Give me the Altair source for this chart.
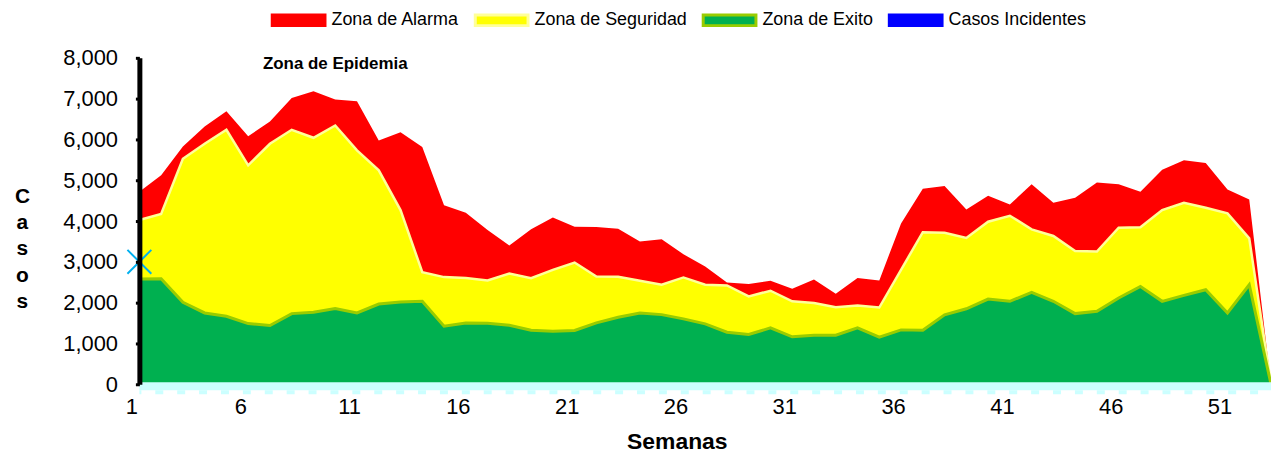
import altair as alt
import pandas as pd

weeks = list(range(1, 54))

alarma = [4715, 5122, 5829, 6317, 6691, 6081, 6439, 7017, 7179, 6976, 6935, 5976, 6179, 5813, 4390, 4203, 3780, 3398,
          3797, 4089, 3862, 3854, 3813, 3496, 3553, 3187, 2886, 2496, 2455, 2537, 2341, 2569, 2220, 2602, 2545,
          3943, 4790, 4858, 4285, 4618, 4407, 4902, 4447, 4569, 4943, 4902, 4715, 5260, 5488, 5423, 4772, 4529,
          0]
seguridad = [4024, 4171, 5528, 5894, 6236, 5366, 5894, 6236, 6041, 6341, 5732, 5244, 4268, 2748, 2626, 2602, 2545, 2712,
             2602, 2805, 2984, 2642, 2634, 2537, 2439, 2618, 2439, 2423, 2154, 2293, 2033, 1992, 1890, 1930, 1880,
             2805, 3728, 3715, 3585, 3984, 4130, 3797, 3634, 3268, 3252, 3837, 3846, 4268, 4447, 4325, 4187, 3577,
             0]
exito = [2577, 2585, 2008, 1748, 1667, 1488, 1439, 1732, 1764, 1854, 1748, 1967, 2016, 2033, 1423, 1504, 1496, 1445,
         1325, 1301, 1317, 1504, 1642, 1748, 1707, 1602, 1480, 1276, 1220, 1382, 1163, 1203, 1203, 1382, 1154,
         1333, 1325, 1700, 1850, 2089, 2033, 2252, 2033, 1732, 1789, 2114, 2398, 2033, 2179, 2317, 1748, 2439,
         0]
casos_semana = [1]
casos_valor = [3000]

zones = ["Zona de Alarma", "Zona de Seguridad", "Zona de Exito", "Casos Incidentes"]
fill_colors = ["#FF0000", "#FFFF00", "#00B050", "#0000FF"]
stroke_colors = ["#FF0000", "#FFFF99", "#99CC00", "#0000FF"]
x_ticks = [1, 6, 11, 16, 21, 26, 31, 36, 41, 46, 51]
y_ticks = [0, 1000, 2000, 3000, 4000, 5000, 6000, 7000, 8000]
annotation = ["Zona de Epidemia"]

rows = []
for name, vals in zip(zones[:3], [alarma, seguridad, exito]):
    for w, v in zip(weeks, vals):
        rows.append({"semana": w, "casos": v, "zona": name})
df = pd.DataFrame(rows)
dfc = pd.DataFrame({"semana": casos_semana, "casos": casos_valor, "zona": ["Casos Incidentes"]})
one = pd.DataFrame({"texto": annotation})

FONT = "Liberation Sans"

x_enc = alt.X("semana:Q",
              scale=alt.Scale(domain=[1, 53], nice=False, zero=False),
              axis=alt.Axis(values=x_ticks, title="Semanas", domain=False, ticks=False, grid=False,
                            labelFontSize=22, labelFont=FONT, labelColor="black", labelPadding=12,
                            labelOffset=-8, labelFlush=False,
                            titleFontSize=23, titleFont=FONT, titleFontWeight="bold", titleColor="black",
                            titleX=540, titleY=58, titleAlign="center", titleBaseline="middle"))
y_enc = alt.Y("casos:Q",
              scale=alt.Scale(domain=[0, 8000], nice=False),
              axis=alt.Axis(values=y_ticks, format=",d", grid=False,
                            domainColor="black", domainWidth=5, tickColor="black", tickWidth=3, tickSize=4,
                            labelFontSize=22, labelFont=FONT, labelColor="black", labelPadding=18,
                            title=["C", "a", "s", "o", "s"], titleAngle=0, titleFontSize=21, titleFont=FONT,
                            titleFontWeight="bold", titleColor="black", titleX=-118, titleY=139,
                            titleAlign="center", titleBaseline="middle", titleLineHeight=26.5, zindex=1))

legend = alt.Legend(orient="none", legendX=132, legendY=-66, direction="horizontal", columns=4,
                    symbolType="M-1,-0.2H1V0.2H-1Z", symbolSize=2809, symbolStrokeWidth=3,
                    labelFont=FONT, labelFontSize=18, labelColor="black", labelOffset=5, columnPadding=9)
fill_enc = alt.Fill("zona:N", title=None, scale=alt.Scale(domain=zones, range=fill_colors), legend=legend)
stroke_enc = alt.Stroke("zona:N", title=None, scale=alt.Scale(domain=zones, range=stroke_colors), legend=legend)

base = alt.Chart(df)

def zone(name):
    return base.transform_filter(alt.datum.zona == name)

red_area = zone("Zona de Alarma").mark_area(clip=True).encode(x=x_enc, y=y_enc, fill=fill_enc)
yellow_area = zone("Zona de Seguridad").mark_area(clip=True).encode(x=x_enc, y=y_enc, fill=fill_enc)
yellow_edge = zone("Zona de Seguridad").mark_line(strokeWidth=2.5).encode(x=x_enc, y=y_enc, stroke=stroke_enc)
green_area = zone("Zona de Exito").mark_area(clip=True).encode(x=x_enc, y=y_enc, fill=fill_enc)
green_edge = zone("Zona de Exito").mark_line(strokeWidth=3).encode(x=x_enc, y=y_enc, stroke=stroke_enc)

casos_line = alt.Chart(dfc).mark_line(strokeWidth=4).encode(x=x_enc, y=y_enc, stroke=stroke_enc)
casos_pt = alt.Chart(dfc).mark_point(shape="M-1,-1L1,1M-1,1L1,-1", size=576, filled=False,
                                     stroke="#00B0F0", strokeWidth=2, opacity=1).encode(x=x_enc, y=y_enc)

band = alt.Chart(one).mark_rule(color="#CCFFFF", strokeWidth=8, yOffset=2).encode(
    x=alt.datum(1), x2=alt.datum(53), y=alt.datum(0))
band_dash = alt.Chart(one).mark_rule(color="#CCFFFF", strokeWidth=4, yOffset=8, strokeDash=[8, 14],
                                     strokeDashOffset=6).encode(
    x=alt.datum(1), x2=alt.datum(53), y=alt.datum(0))

label = alt.Chart(one).mark_text(font=FONT, fontSize=17, fontWeight="bold",
                                 color="black", align="center", baseline="middle").encode(
    x=alt.datum(10), y=alt.datum(7850), text="texto:N")

chart = alt.layer(red_area, yellow_area, yellow_edge, green_area, green_edge, band, band_dash,
                  casos_line, casos_pt, label).properties(
    width=1137, height=328,
    autosize=alt.AutoSizeParams(type="none"),
    padding={"left": 132, "top": 49, "right": 0, "bottom": 70},
    background="white",
).configure_view(stroke=None)

chart.save("out.html", embed_options={"renderer": "svg", "actions": False})
